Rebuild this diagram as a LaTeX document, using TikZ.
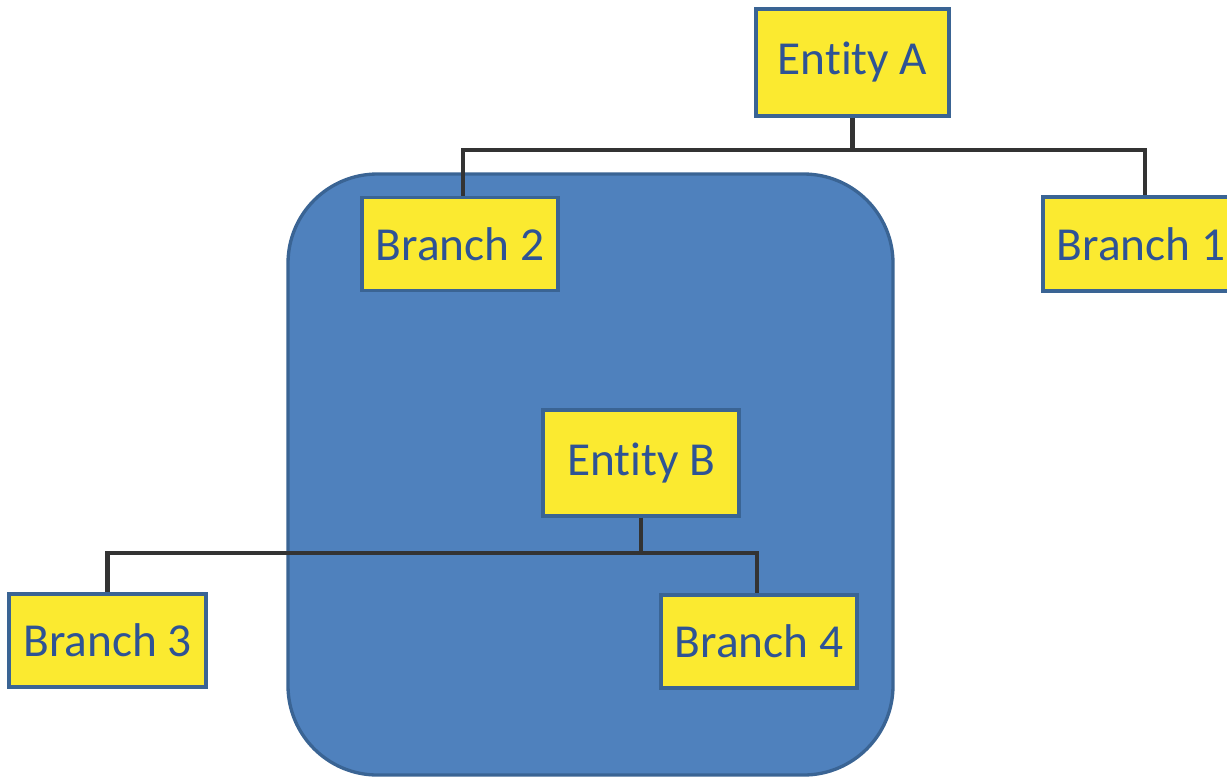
\documentclass[tikz,border=0pt]{standalone}
\usepackage{fontspec}
\setmainfont{Carlito}[RawFeature={-liga;-clig;-calt;-dlig}]
\usepackage{tikz}
\usetikzlibrary{positioning}
\usepackage{xcolor}
\definecolor{boxfill}{HTML}{FBEA30}
\definecolor{boxline}{HTML}{3A6494}
\definecolor{labelblue}{HTML}{2E5395}
\definecolor{areafill}{HTML}{4F81BD}
\definecolor{wire}{HTML}{333333}

\begin{document}
\begin{tikzpicture}[x=0.75pt,y=-0.75pt,
    ent/.style={rectangle,fill=boxfill,draw=boxline,line width=2.5pt,
      inner sep=0pt,text=labelblue,font=\fontsize{35.5}{40}\selectfont},
    link/.style={draw=wire,line width=3.2pt}]
        \clip (0,0) rectangle (1227,776);
        % shaded area behind branch 2, entity B and branch 4
        \draw[fill=areafill,draw=boxline,line width=2.5pt,rounded corners=67pt]
          (288,174) rectangle (893,775);
        % kern keeps t and i apart
        \node[ent,minimum width=144.75pt,minimum height=80.25pt] (ea) at (852.5,62.5) {Ent\kern0pt ity A};
        \node[ent,minimum width=147pt,minimum height=69.75pt] (b2) at (460,244) {Branch 2};
        \node[ent,minimum width=147pt,minimum height=70.5pt] (b1) at (1141,244) {Branch 1};
        \node[ent,minimum width=147pt,minimum height=79.5pt] (eb) at (641,463) {Ent\kern0pt ity B};
        \node[ent,minimum width=147.75pt,minimum height=69.75pt] (b3) at (107.5,640.5) {Branch 3};
        \node[ent,minimum width=147pt,minimum height=69.75pt] (b4) at (759,641.5) {Branch 4};
        \coordinate (busA) at (852.5,150);
        \coordinate (busB) at (641,553);
        \draw[link] (ea.south) -- (busA) -| ([xshift=2.25pt]b2.north);
        \draw[link] (busA) -| ([xshift=3pt]b1.north);
        \draw[link] (eb.south) -- (busB) -| (b3.north);
        \draw[link] (busB) -| ([xshift=-1.5pt]b4.north);
      \end{tikzpicture}
\end{document}
